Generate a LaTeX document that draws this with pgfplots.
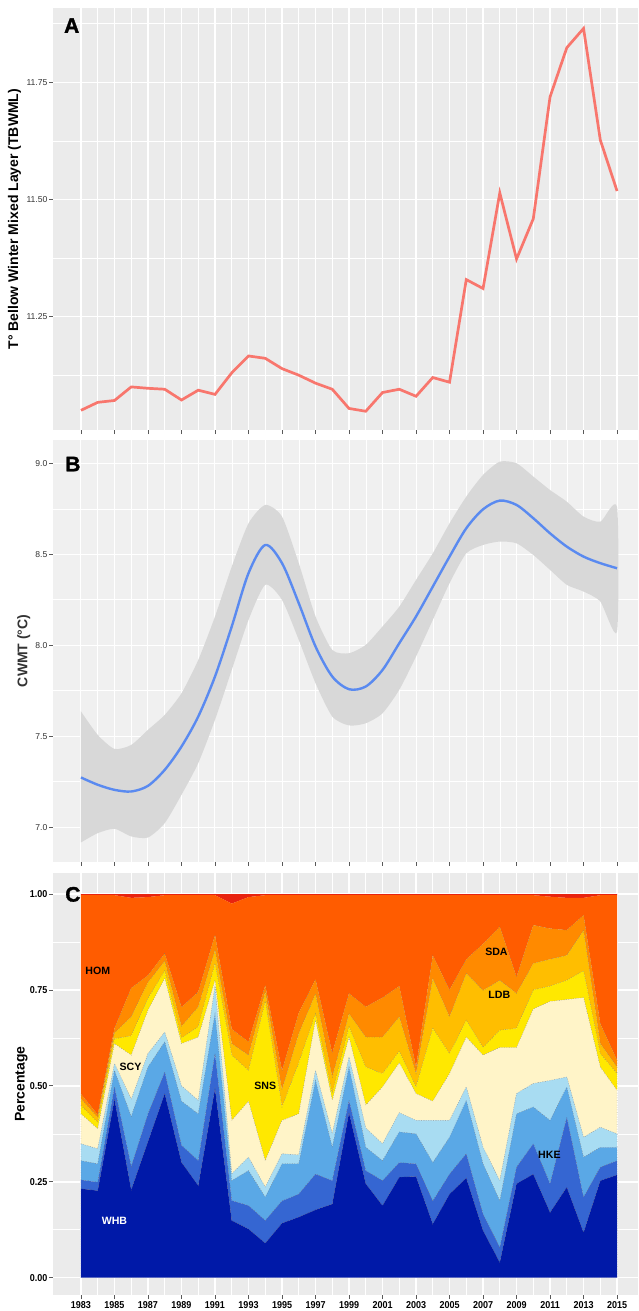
\documentclass[border=0pt]{standalone}
\usepackage{pgfplots}
\pgfplotsset{compat=1.18}
\usepackage{pgfplotstable}
\usepackage{fontspec}
\setmainfont{Liberation Sans}
\newfontfamily\condfont[FakeStretch=0.9]{Liberation Sans}
\newfontfamily\heavyfont[BoldFeatures={FakeBold=1.5}]{Liberation Sans}

\definecolor{ggbg}{HTML}{EBEBEB}
\definecolor{ggbgB}{HTML}{F0F0F0}
\definecolor{redline}{HTML}{F8766D}
\definecolor{blueline}{HTML}{5A8AF0}
\definecolor{ribbon}{HTML}{D8D8D8}
\definecolor{cWHB}{HTML}{0019A8}
\definecolor{cMB}{HTML}{3566D2}
\definecolor{cLB}{HTML}{5AA8E6}
\definecolor{cCY}{HTML}{A8DCF2}
\definecolor{cCR}{HTML}{FFF4C8}
\definecolor{cYE}{HTML}{FFE800}
\definecolor{cAM}{HTML}{FFBE00}
\definecolor{cOR}{HTML}{FF8A00}
\definecolor{cHOM}{HTML}{FF5C00}
\definecolor{cRED}{HTML}{E8230F}

\tikzset{lab/.style={font=\bfseries\fontsize{5.3}{6}\selectfont}}

\pgfplotstableread{
yr v
1983 11.050
1984 11.067
1985 11.071
1986 11.100
1987 11.097
1988 11.095
1989 11.072
1990 11.093
1991 11.084
1992 11.130
1993 11.166
1994 11.161
1995 11.139
1996 11.125
1997 11.108
1998 11.095
1999 11.054
2000 11.048
2001 11.088
2002 11.095
2003 11.080
2004 11.120
2005 11.110
2006 11.329
2007 11.310
2008 11.514
2009 11.373
2010 11.459
2011 11.719
2012 11.824
2013 11.865
2014 11.627
2015 11.518
}\tdata

\pgfplotstableread{
yr fit
1983 7.273
1984 7.233
1985 7.205
1986 7.196
1987 7.227
1988 7.315
1989 7.443
1990 7.608
1991 7.828
1992 8.103
1993 8.396
1994 8.551
1995 8.451
1996 8.231
1997 7.993
1998 7.828
1999 7.758
2000 7.773
2001 7.864
2002 8.011
2003 8.158
2004 8.322
2005 8.487
2006 8.643
2007 8.747
2008 8.795
2009 8.771
2010 8.698
2011 8.615
2012 8.542
2013 8.487
2014 8.451
2015 8.423
}\bdata

% confidence band: upper edge 1983->2015, then lower edge 2015->1983
\pgfplotstableread{
yr y
1983 7.636
1984 7.507
1985 7.430
1986 7.452
1987 7.535
1988 7.617
1989 7.736
1990 7.919
1991 8.158
1992 8.432
1993 8.670
1994 8.771
1995 8.707
1996 8.451
1997 8.158
1998 7.974
1999 7.956
2000 8.002
2001 8.103
2002 8.212
2003 8.359
2004 8.505
2005 8.670
2006 8.817
2007 8.936
2008 9.009
2009 9.000
2010 8.927
2011 8.853
2012 8.789
2013 8.707
2014 8.679
2015 8.758
2015 8.075
2014 8.240
2013 8.295
2012 8.332
2011 8.414
2010 8.496
2009 8.560
2008 8.570
2007 8.551
2006 8.505
2005 8.341
2004 8.139
2003 7.938
2002 7.755
2001 7.626
2000 7.571
1999 7.559
1998 7.608
1997 7.791
1996 8.029
1995 8.249
1994 8.332
1993 8.139
1992 7.864
1991 7.590
1990 7.352
1989 7.178
1988 7.022
1987 6.943
1986 6.949
1985 6.991
1984 6.967
1983 6.916
}\banddata

\pgfplotstableread{
yr B1 B2 B3 B4 B5 B6 B7 B8 B9
1983 0.232 0.255 0.305 0.349 0.427 0.449 0.466 0.479 0.997
1984 0.227 0.249 0.297 0.336 0.388 0.405 0.418 0.425 0.997
1985 0.465 0.497 0.540 0.558 0.610 0.623 0.638 0.650 0.997
1986 0.229 0.290 0.420 0.465 0.580 0.630 0.680 0.755 0.990
1987 0.355 0.427 0.549 0.584 0.697 0.728 0.770 0.788 0.992
1988 0.480 0.536 0.615 0.640 0.780 0.800 0.825 0.845 0.997
1989 0.301 0.345 0.460 0.500 0.610 0.625 0.655 0.705 0.997
1990 0.240 0.305 0.427 0.462 0.627 0.654 0.706 0.745 0.997
1991 0.493 0.584 0.688 0.760 0.775 0.819 0.854 0.893 0.997
1992 0.149 0.201 0.253 0.271 0.410 0.580 0.610 0.648 0.975
1993 0.127 0.188 0.279 0.314 0.460 0.540 0.580 0.615 0.992
1994 0.090 0.149 0.210 0.236 0.305 0.720 0.745 0.762 0.997
1995 0.142 0.200 0.297 0.323 0.410 0.445 0.490 0.540 0.997
1996 0.158 0.218 0.297 0.320 0.427 0.560 0.636 0.690 0.997
1997 0.177 0.270 0.514 0.540 0.671 0.688 0.740 0.778 0.997
1998 0.192 0.253 0.340 0.375 0.462 0.480 0.523 0.585 0.997
1999 0.430 0.462 0.549 0.575 0.627 0.654 0.688 0.741 0.997
2000 0.245 0.279 0.340 0.390 0.450 0.549 0.627 0.706 0.997
2001 0.188 0.253 0.305 0.349 0.497 0.532 0.627 0.730 0.997
2002 0.262 0.300 0.380 0.430 0.560 0.590 0.680 0.760 0.997
2003 0.264 0.297 0.375 0.410 0.480 0.497 0.532 0.549 0.997
2004 0.140 0.200 0.300 0.410 0.460 0.650 0.780 0.840 0.997
2005 0.218 0.270 0.366 0.410 0.532 0.584 0.680 0.750 0.997
2006 0.260 0.323 0.462 0.497 0.627 0.671 0.793 0.830 0.997
2007 0.123 0.166 0.297 0.340 0.580 0.600 0.749 0.870 0.997
2008 0.040 0.079 0.200 0.253 0.600 0.645 0.775 0.915 0.997
2009 0.245 0.288 0.427 0.480 0.600 0.650 0.741 0.784 0.997
2010 0.270 0.349 0.445 0.506 0.700 0.750 0.819 0.919 0.997
2011 0.170 0.245 0.410 0.514 0.720 0.760 0.830 0.910 0.993
2012 0.236 0.418 0.497 0.523 0.725 0.775 0.840 0.906 0.990
2013 0.118 0.210 0.314 0.366 0.730 0.800 0.905 0.945 0.990
2014 0.253 0.288 0.340 0.392 0.549 0.584 0.610 0.662 0.997
2015 0.268 0.305 0.340 0.375 0.488 0.532 0.549 0.567 0.997
}\cdata

\pgfplotsset{
  ggpanel/.style={
    scale only axis, width=292.5pt, height=210.85pt,
    xmin=1981.33, xmax=2016.25,
    axis line style={draw=none},
    xtick={1983,1985,...,2015},
    minor xtick={1984,1986,...,2014},
    grid=both,
    major grid style={white, line width=0.7pt},
    minor grid style={white, line width=0.35pt},
    tick align=outside,
    major tick length=2pt, minor tick length=0pt,
    tick style={black!65, line width=0.4pt},
    xtick pos=left, ytick pos=left,
    yticklabel style={font=\fontsize{4.3}{5}\selectfont, text=black!80, inner sep=0.6pt},
    xticklabels={},
    /pgf/number format/assume math mode=true,
    /pgf/number format/1000 sep={},
    ylabel style={anchor=center, font=\bfseries\fontsize{7}{8}\selectfont},
  },
  carea/.style={fill=#1, draw=black!55, densely dotted, line width=0.2pt},
}

\begin{document}
\begin{tikzpicture}
\useasboundingbox (0,0) rectangle (319pt,-655.5pt);

% ---------------- Panel A
\begin{axis}[ggpanel, at={(26.5pt,-215pt)}, anchor=south west,
  axis background/.style={fill=ggbg},
  ymin=11.008, ymax=11.908,
  ytick={11.25,11.5,11.75}, yticklabels={11.25,11.50,11.75},
  minor ytick={11.125,11.375,11.625,11.875},
  ylabel={T\textdegree\ Bellow Winter Mixed Layer (TBWML)},
  ylabel style={at={(axis description cs:-0.066,0.5)}},
]
\addplot[redline, line width=1.35pt] table[x=yr,y=v] {\tdata};
\node[font=\heavyfont\bfseries\fontsize{10.5}{12}\selectfont] at (rel axis cs:0.032,0.959) {A};
\end{axis}

% ---------------- Panel B
\begin{axis}[ggpanel, at={(26.5pt,-430.85pt)}, anchor=south west,
  axis background/.style={fill=ggbgB},
  major grid style={white, line width=0.5pt},
  minor grid style={white, line width=0.25pt},
  ymin=6.81, ymax=9.128,
  ytick={7,7.5,8,8.5,9}, yticklabels={7.0,7.5,8.0,8.5,9.0},
  minor ytick={7.25,7.75,8.25,8.75},
  ylabel={CWMT (\textdegree C)},
  ylabel style={at={(axis description cs:-0.05,0.5)}, text=black!80},
]
\addplot[fill=ribbon, draw=none, smooth, tension=0.4] table[x=yr,y=y] {\banddata} -- cycle;
\addplot[blueline, line width=1.2pt, smooth] table[x=yr,y=fit] {\bdata};
\node[font=\heavyfont\bfseries\fontsize{10.5}{12}\selectfont] at (rel axis cs:0.034,0.943) {B};
\end{axis}

% ---------------- Panel C
\begin{axis}[ggpanel, at={(26.5pt,-647.5pt)}, anchor=south west,
  axis background/.style={fill=ggbg},
  ymin=-0.045, ymax=1.054,
  ytick={0,0.25,0.5,0.75,1}, yticklabels={0.00,0.25,0.50,0.75,1.00},
  minor ytick={0.125,0.375,0.625,0.875},
  xticklabels={1983,1985,1987,1989,1991,1993,1995,1997,1999,2001,2003,2005,2007,2009,2011,2013,2015},
  xticklabel style={font=\condfont\bfseries\fontsize{5}{6}\selectfont, text=black, inner sep=1pt},
  yticklabel style={font=\condfont\bfseries\fontsize{5}{6}\selectfont, text=black, inner sep=0.6pt},
  ylabel={Percentage},
  ylabel style={at={(axis description cs:-0.054,0.5)}},
  stack plots=y,
]
\addplot[carea=cWHB] table[x=yr,y=B1] {\cdata} \closedcycle;
\addplot[carea=cMB] table[x=yr,y expr=\thisrow{B2}-\thisrow{B1}] {\cdata} \closedcycle;
\addplot[carea=cLB] table[x=yr,y expr=\thisrow{B3}-\thisrow{B2}] {\cdata} \closedcycle;
\addplot[carea=cCY] table[x=yr,y expr=\thisrow{B4}-\thisrow{B3}] {\cdata} \closedcycle;
\addplot[carea=cCR] table[x=yr,y expr=\thisrow{B5}-\thisrow{B4}] {\cdata} \closedcycle;
\addplot[carea=cYE] table[x=yr,y expr=\thisrow{B6}-\thisrow{B5}] {\cdata} \closedcycle;
\addplot[carea=cAM] table[x=yr,y expr=\thisrow{B7}-\thisrow{B6}] {\cdata} \closedcycle;
\addplot[carea=cOR] table[x=yr,y expr=\thisrow{B8}-\thisrow{B7}] {\cdata} \closedcycle;
\addplot[fill=cHOM, draw=none] table[x=yr,y expr=\thisrow{B9}-\thisrow{B8}] {\cdata} \closedcycle;
\addplot[fill=cRED, draw=none] table[x=yr,y expr=1-\thisrow{B9}] {\cdata} \closedcycle;
\end{axis}

% ---------------- Panel C annotations (overlay, same geometry)
\begin{axis}[scale only axis, width=292.5pt, height=210.85pt,
  at={(26.5pt,-647.5pt)}, anchor=south west,
  xmin=1981.33, xmax=2016.25, ymin=-0.045, ymax=1.054,
  hide axis, clip=false]
\node[lab] at (axis cs:1984.0,0.80) {HOM};
\node[lab] at (axis cs:1985.96,0.549) {SCY};
\node[lab] at (axis cs:1994.0,0.50) {SNS};
\node[lab] at (axis cs:2007.8,0.849) {SDA};
\node[lab] at (axis cs:2007.97,0.738) {LDB};
\node[lab] at (axis cs:2010.96,0.319) {HKE};
\node[lab, text=white] at (axis cs:1985.0,0.149) {WHB};
\node[font=\heavyfont\bfseries\fontsize{10.5}{12}\selectfont] at (rel axis cs:0.034,0.950) {C};
\end{axis}
\end{tikzpicture}
\end{document}
